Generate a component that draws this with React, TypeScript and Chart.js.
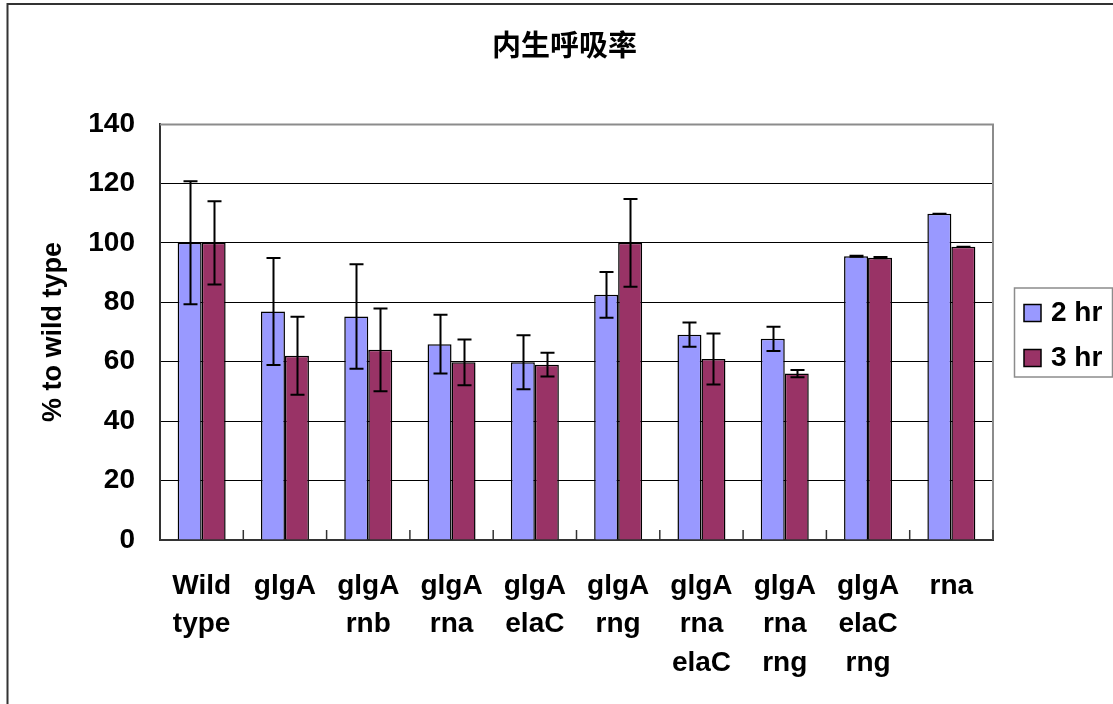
import React, { useEffect, useRef } from 'react';
import { Chart, registerables } from 'chart.js';

Chart.register(...registerables);

// ---- data ----
const categories: string[][] = [
  ['Wild', 'type'],
  ['glgA'],
  ['glgA', 'rnb'],
  ['glgA', 'rna'],
  ['glgA', 'elaC'],
  ['glgA', 'rng'],
  ['glgA', 'rna', 'elaC'],
  ['glgA', 'rna', 'rng'],
  ['glgA', 'elaC', 'rng'],
  ['rna'],
];
const series2hr = [100, 76.9, 75.2, 65.9, 59.8, 82.5, 69.1, 67.7, 95.5, 109.8];
const series3hr = [100, 62.0, 64.0, 59.8, 59.0, 100, 60.9, 56.0, 95.0, 98.7];
const err2hr = [20.7, 18.0, 17.6, 9.9, 9.1, 7.7, 4.1, 4.1, 0.2, 0];
const err3hr = [14.0, 13.1, 13.9, 7.7, 4.0, 14.8, 8.6, 1.2, 0.2, 0];
const seriesNames = ['2 hr', '3 hr'];
const yMin = 0;
const yMax = 140;
const yStep = 20;
const titleText = '内生呼吸率';
const yAxisTitle = '% to wild type';

const COLOR_2HR = '#9999FF';
const COLOR_3HR = '#993366';
const FONT = '"Liberation Sans", Arial, sans-serif';
const CJK_FONT = '"Noto Sans CJK SC", sans-serif';

const errors = [err2hr, err3hr];

const decorPlugin = {
  id: 'decor',
  beforeDraw(chart: any) {
    const ctx = chart.ctx;
    ctx.save();
    ctx.fillStyle = '#ffffff';
    ctx.fillRect(0, 0, chart.width, chart.height);
    // outer frame
    ctx.strokeStyle = '#333333';
    ctx.lineWidth = 2;
    ctx.beginPath();
    ctx.moveTo(7.5, chart.height + 5);
    ctx.lineTo(7.5, 4);
    ctx.lineTo(chart.width + 5, 4);
    ctx.stroke();
    ctx.restore();
  },
  beforeDatasetsDraw(chart: any) {
    const ctx = chart.ctx;
    const a = chart.chartArea;
    ctx.save();
    ctx.strokeStyle = '#8c8c8c';
    ctx.lineWidth = 2;
    ctx.beginPath();
    ctx.moveTo(a.left, a.top + 0.5);
    ctx.lineTo(a.right, a.top + 0.5);
    ctx.lineTo(a.right, a.bottom);
    ctx.stroke();
    ctx.restore();
  },
  afterDatasetsDraw(chart: any) {
    const ctx = chart.ctx;
    const a = chart.chartArea;
    const xs = chart.scales.x;
    const ys = chart.scales.y;
    ctx.save();
    // inward tick marks at category boundaries
    ctx.strokeStyle = '#333333';
    ctx.lineWidth = 1.5;
    const n = categories.length;
    const step = xs.getPixelForValue(1) - xs.getPixelForValue(0);
    for (let i = 0; i <= n; i++) {
      const x = xs.getPixelForValue(0) - step / 2 + i * step;
      ctx.beginPath();
      ctx.moveTo(x, a.bottom);
      ctx.lineTo(x, a.bottom - 10);
      ctx.stroke();
    }
    // error bars
    ctx.strokeStyle = '#000000';
    ctx.lineWidth = 2;
    chart.data.datasets.forEach((ds: any, d: number) => {
      const meta = chart.getDatasetMeta(d);
      meta.data.forEach((el: any, i: number) => {
        const v = ds.data[i];
        const e = errors[d][i];
        const x = Math.round(el.x) + 0.5;
        const yTop = ys.getPixelForValue(v + e);
        const yBot = ys.getPixelForValue(v - e);
        ctx.beginPath();
        ctx.moveTo(x, yTop);
        ctx.lineTo(x, yBot);
        ctx.moveTo(x - 7, yTop);
        ctx.lineTo(x + 7, yTop);
        ctx.moveTo(x - 7, yBot);
        ctx.lineTo(x + 7, yBot);
        ctx.stroke();
      });
    });
    ctx.restore();
  },
  afterDraw(chart: any) {
    const ctx = chart.ctx;
    const a = chart.chartArea;
    ctx.save();
    // title
    ctx.fillStyle = '#000';
    ctx.font = `bold 29px ${CJK_FONT}`;
    ctx.textAlign = 'center';
    ctx.textBaseline = 'middle';
    ctx.fillText(titleText, 564.5, 45);
    // legend
    const lx = a.right + 21;
    const ly = (a.top + a.bottom) / 2 - 44.5;
    ctx.strokeStyle = '#8c8c8c';
    ctx.lineWidth = 1.5;
    ctx.strokeRect(lx + 0.5, ly + 0.5, 98, 89);
    const colors = [COLOR_2HR, COLOR_3HR];
    seriesNames.forEach((name, i) => {
      const cy = ly + 25 + i * 45;
      ctx.fillStyle = colors[i];
      ctx.fillRect(lx + 10, cy - 8, 17, 17);
      ctx.strokeStyle = '#000';
      ctx.lineWidth = 1.5;
      ctx.strokeRect(lx + 10, cy - 8, 17, 17);
      ctx.fillStyle = '#000';
      ctx.font = `bold 28px ${FONT}`;
      ctx.textAlign = 'left';
      ctx.textBaseline = 'middle';
      ctx.fillText(name, lx + 37, cy + 1);
    });
    ctx.restore();
  },
};

export default function App() {
  const canvasRef = useRef<HTMLCanvasElement | null>(null);

  useEffect(() => {
    if (!canvasRef.current) return;
    const chart = new Chart(canvasRef.current, {
      type: 'bar',
      data: {
        labels: categories,
        datasets: [
          {
            label: seriesNames[0],
            data: series2hr,
            backgroundColor: COLOR_2HR,
            borderColor: '#000',
            borderWidth: 1.5,
            categoryPercentage: 0.576,
            barPercentage: 1.0,
          },
          {
            label: seriesNames[1],
            data: series3hr,
            backgroundColor: COLOR_3HR,
            borderColor: '#000',
            borderWidth: 1.5,
            categoryPercentage: 0.576,
            barPercentage: 1.0,
          },
        ],
      },
      options: {
        animation: false,
        responsive: false,
        devicePixelRatio: 1,
        layout: { padding: { left: 0, right: 120, top: 124, bottom: 0 } },
        plugins: {
          legend: { display: false },
          title: { display: false },
          tooltip: { enabled: false },
        },
        scales: {
          x: {
            type: 'category',
            grid: { display: false, drawTicks: false },
            border: { display: true, color: '#333333', width: 2 },
            ticks: {
              color: '#000',
              font: { family: FONT, size: 28, weight: 'bold', lineHeight: 1.375 },
              padding: 27,
              maxRotation: 0,
              minRotation: 0,
              autoSkip: false,
            },
            afterFit: (scale: any) => {
              scale.height = 164;
            },
          },
          y: {
            min: yMin,
            max: yMax,
            ticks: {
              stepSize: yStep,
              color: '#000',
              font: { family: FONT, size: 28, weight: 'bold' },
              padding: 25,
            },
            grid: {
              drawTicks: false,
              color: (c: any) => (c.tick && c.tick.value === yMax ? '#8c8c8c' : '#000000'),
              lineWidth: 1,
            },
            border: { display: true, color: '#333333', width: 2 },
            title: {
              display: true,
              text: yAxisTitle,
              color: '#000',
              font: { family: FONT, size: 27, weight: 'bold' },
              padding: { top: 37, bottom: 0 },
            },
            afterFit: (scale: any) => {
              scale.width = 160;
            },
          },
        },
      } as any,
      plugins: [decorPlugin],
    });
    return () => chart.destroy();
  }, []);

  return (
    <div style={{ position: 'fixed', left: 0, top: 0, width: 1113, height: 704, background: '#fff' }}>
      <canvas ref={canvasRef} width={1113} height={704} style={{ display: 'block' }} />
    </div>
  );
}
